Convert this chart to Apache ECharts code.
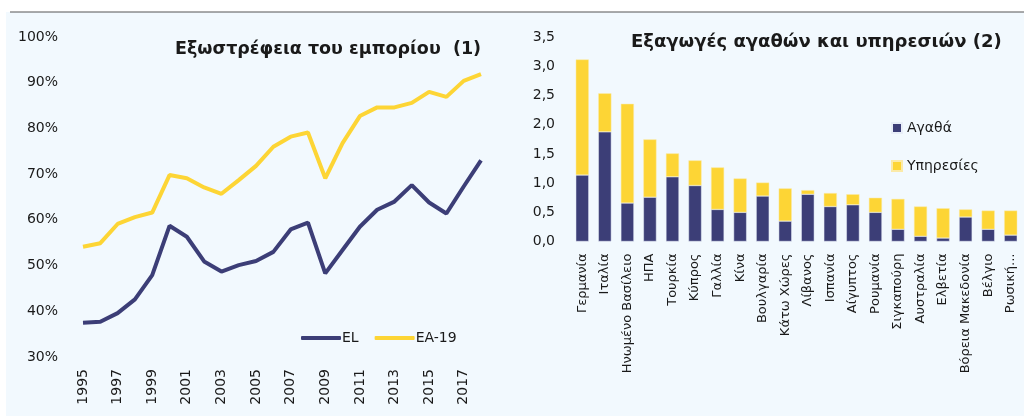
<!DOCTYPE html>
<html>
<head>
<meta charset="utf-8">
<script src="https://cdn.jsdelivr.net/npm/echarts@6/dist/echarts.min.js"></script>
<style>
  html, body { margin: 0; padding: 0; background: #fff; }
  #chart { width: 1024px; height: 416px; }
</style>
</head>
<body>
<div id="chart"></div>
<script>
// left chart: trade openness (% of GDP)
const years = ['1995', '1996', '1997', '1998', '1999', '2000', '2001', '2002', '2003', '2004', '2005', '2006',
  '2007', '2008', '2009', '2010', '2011', '2012', '2013', '2014', '2015', '2016', '2017', '2018']
const elValues = [37.5, 37.7, 39.6, 42.6, 47.9, 58.7, 56.3, 50.9, 48.7, 50.1, 51.0, 53.0,
  57.9, 59.4, 48.3, 53.4, 58.5, 62.2, 64.0, 67.6, 63.8, 61.4, 67.3, 73.0]
const ea19Values = [54.1, 54.9, 59.1, 60.6, 61.6, 69.8, 69.1, 67.1, 65.7, 68.7, 71.8, 76.0,
  78.2, 79.1, 69.1, 76.8, 82.7, 84.6, 84.6, 85.6, 88.0, 86.9, 90.4, 91.9]

// right chart: exports of goods and services by destination
const countries = ['Γερμανία', 'Ιταλία', 'Ηνωμένο Βασίλειο', 'ΗΠΑ', 'Τουρκία', 'Κύπρος', 'Γαλλία', 'Κίνα',
  'Βουλγαρία', 'Κάτω Χώρες', 'Λίβανος', 'Ισπανία', 'Αίγυπτος', 'Ρουμανία', 'Σιγκαπούρη', 'Αυστραλία',
  'Ελβετία', 'Βόρεια Μακεδονία', 'Βέλγιο', 'Ρωσική...']
const goods = [1.14, 1.88, 0.66, 0.76, 1.11, 0.96, 0.55, 0.50, 0.78, 0.35, 0.81, 0.60, 0.63, 0.50,
  0.21, 0.09, 0.06, 0.42, 0.21, 0.11]
const services = [1.98, 0.66, 1.70, 0.99, 0.40, 0.43, 0.72, 0.58, 0.23, 0.56, 0.07, 0.23, 0.18, 0.25,
  0.52, 0.51, 0.51, 0.13, 0.32, 0.42]

const navy = '#3c3e77'
const yellow = '#fdd535'
const font = 'DejaVu Sans'
const txt = '#1a1a1a'

const chart = echarts.init(document.getElementById('chart'))
chart.setOption({
  backgroundColor: '#fff',
  textStyle: { fontFamily: font, color: txt },
  animation: false,
  graphic: [
    { type: 'rect', shape: { x: 6, y: 12, width: 1018, height: 404 }, style: { fill: '#f2f9fe' }, z: -10 },
    { type: 'line', shape: { x1: 10, y1: 12, x2: 1024, y2: 12 }, style: { stroke: '#555', lineWidth: 1 }, z: -9 }
  ],
  title: [
    {
      text: 'Εξωστρέφεια του εμπορίου  (1)',
      left: 170, top: 35,
      textStyle: { fontFamily: font, fontSize: 17.5, fontWeight: 'bold', color: txt }
    },
    {
      text: 'Εξαγωγές αγαθών και υπηρεσιών (2)',
      left: 626, top: 28,
      textStyle: { fontFamily: font, fontSize: 18, fontWeight: 'bold', color: txt }
    }
  ],
  legend: [
    {
      data: ['EL', 'EA-19'],
      left: 296, top: 326,
      itemWidth: 40, itemHeight: 4, itemGap: 16,
      icon: 'roundRect',
      textStyle: { fontFamily: font, fontSize: 14, color: txt, padding: [0, 0, 0, -4] }
    },
    {
      data: ['Αγαθά', 'Υπηρεσίες'],
      orient: 'vertical',
      left: 886, top: 116,
      itemWidth: 10, itemHeight: 10, itemGap: 24,
      icon: 'rect',
      textStyle: { fontFamily: font, fontSize: 14, color: txt }
    }
  ],
  grid: [
    { left: 83, top: 37, width: 398, height: 320 },
    { left: 571, top: 37.3, width: 451, height: 204.2 }
  ],
  xAxis: [
    {
      type: 'category', gridIndex: 0, data: years, boundaryGap: false,
      axisLine: { show: false }, axisTick: { show: false },
      axisLabel: { rotate: 90, interval: 1, fontSize: 14, color: txt, margin: 12 }
    },
    {
      type: 'category', gridIndex: 1, data: countries,
      axisLine: { show: false }, axisTick: { show: false },
      axisLabel: { rotate: 90, interval: 0, fontSize: 13, color: txt, margin: 12 }
    }
  ],
  yAxis: [
    {
      type: 'value', gridIndex: 0, min: 30, max: 100, interval: 10,
      splitLine: { show: false }, axisLine: { show: false }, axisTick: { show: false },
      axisLabel: { formatter: '{value}%', fontSize: 14, color: txt, margin: 25 }
    },
    {
      type: 'value', gridIndex: 1, min: 0, max: 3.5, interval: 0.5,
      splitLine: { show: false }, axisLine: { show: false }, axisTick: { show: false },
      axisLabel: {
        formatter: v => v.toFixed(1).replace('.', ','),
        fontSize: 14, color: txt, margin: 16
      }
    }
  ],
  series: [
    {
      name: 'EL', type: 'line', xAxisIndex: 0, yAxisIndex: 0, data: elValues,
      showSymbol: false, lineStyle: { color: navy, width: 4 }, itemStyle: { color: navy }
    },
    {
      name: 'EA-19', type: 'line', xAxisIndex: 0, yAxisIndex: 0, data: ea19Values,
      showSymbol: false, lineStyle: { color: yellow, width: 4 }, itemStyle: { color: yellow }
    },
    {
      name: 'Αγαθά', type: 'bar', xAxisIndex: 1, yAxisIndex: 1, stack: 'exports',
      data: goods, barWidth: '58%',
      itemStyle: { color: navy, borderColor: '#e8eef8', borderWidth: 0.5 }
    },
    {
      name: 'Υπηρεσίες', type: 'bar', xAxisIndex: 1, yAxisIndex: 1, stack: 'exports',
      data: services, barWidth: '58%',
      itemStyle: { color: yellow, borderColor: '#fbeaa8', borderWidth: 0.5 }
    }
  ]
})
</script>
</body>
</html>
